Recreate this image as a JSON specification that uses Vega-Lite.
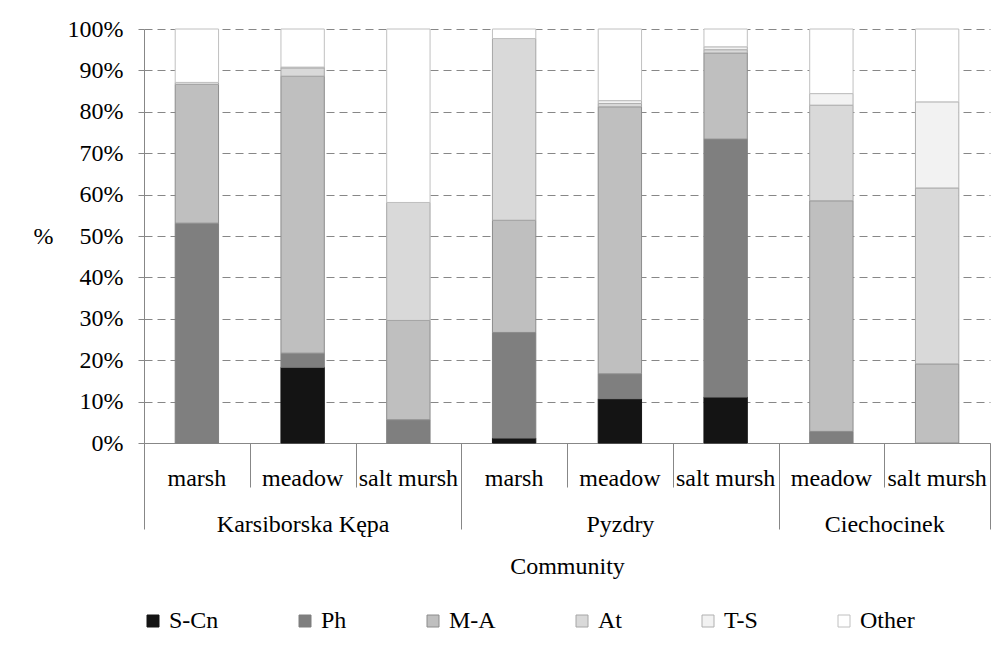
{
  "$schema": "https://vega.github.io/schema/vega-lite/v6.json",
  "autosize": "none",
  "width": 846,
  "height": 414,
  "padding": {"left": 144, "top": 29, "right": 13, "bottom": 217},
  "background": "white",
  "view": {"stroke": null},
  "config": {"font": "Liberation Serif"},
  "layer": [
    {
      "data": {
        "values": [
          {"bar": "Karsiborska Kępa|marsh", "group": "Ph", "value": 53.1},
          {"bar": "Karsiborska Kępa|marsh", "group": "M-A", "value": 33.5},
          {"bar": "Karsiborska Kępa|marsh", "group": "At", "value": 0.5},
          {"bar": "Karsiborska Kępa|marsh", "group": "Other", "value": 12.9},
          {"bar": "Karsiborska Kępa|meadow", "group": "S-Cn", "value": 18.3},
          {"bar": "Karsiborska Kępa|meadow", "group": "Ph", "value": 3.4},
          {"bar": "Karsiborska Kępa|meadow", "group": "M-A", "value": 66.9},
          {"bar": "Karsiborska Kępa|meadow", "group": "At", "value": 2.0},
          {"bar": "Karsiborska Kępa|meadow", "group": "T-S", "value": 0.2},
          {"bar": "Karsiborska Kępa|meadow", "group": "Other", "value": 9.2},
          {"bar": "Karsiborska Kępa|salt mursh", "group": "Ph", "value": 5.6},
          {"bar": "Karsiborska Kępa|salt mursh", "group": "M-A", "value": 24.0},
          {"bar": "Karsiborska Kępa|salt mursh", "group": "At", "value": 28.5},
          {"bar": "Karsiborska Kępa|salt mursh", "group": "Other", "value": 41.9},
          {"bar": "Pyzdry|marsh", "group": "S-Cn", "value": 1.2},
          {"bar": "Pyzdry|marsh", "group": "Ph", "value": 25.5},
          {"bar": "Pyzdry|marsh", "group": "M-A", "value": 27.1},
          {"bar": "Pyzdry|marsh", "group": "At", "value": 43.9},
          {"bar": "Pyzdry|marsh", "group": "Other", "value": 2.3},
          {"bar": "Pyzdry|meadow", "group": "S-Cn", "value": 10.7},
          {"bar": "Pyzdry|meadow", "group": "Ph", "value": 6.0},
          {"bar": "Pyzdry|meadow", "group": "M-A", "value": 64.5},
          {"bar": "Pyzdry|meadow", "group": "At", "value": 0.8},
          {"bar": "Pyzdry|meadow", "group": "T-S", "value": 0.7},
          {"bar": "Pyzdry|meadow", "group": "Other", "value": 17.3},
          {"bar": "Pyzdry|salt mursh", "group": "S-Cn", "value": 11.1},
          {"bar": "Pyzdry|salt mursh", "group": "Ph", "value": 62.3},
          {"bar": "Pyzdry|salt mursh", "group": "M-A", "value": 20.8},
          {"bar": "Pyzdry|salt mursh", "group": "At", "value": 0.8},
          {"bar": "Pyzdry|salt mursh", "group": "T-S", "value": 0.7},
          {"bar": "Pyzdry|salt mursh", "group": "Other", "value": 4.3},
          {"bar": "Ciechocinek|meadow", "group": "Ph", "value": 2.8},
          {"bar": "Ciechocinek|meadow", "group": "M-A", "value": 55.7},
          {"bar": "Ciechocinek|meadow", "group": "At", "value": 23.1},
          {"bar": "Ciechocinek|meadow", "group": "T-S", "value": 2.8},
          {"bar": "Ciechocinek|meadow", "group": "Other", "value": 15.6},
          {"bar": "Ciechocinek|salt mursh", "group": "M-A", "value": 19.1},
          {"bar": "Ciechocinek|salt mursh", "group": "At", "value": 42.5},
          {"bar": "Ciechocinek|salt mursh", "group": "T-S", "value": 20.8},
          {"bar": "Ciechocinek|salt mursh", "group": "Other", "value": 17.6}
        ]
      },
      "transform": [
        {"calculate": "indexof(['S-Cn','Ph','M-A','At','T-S','Other'], datum.group)", "as": "ord"}
      ],
      "mark": {"type": "bar", "strokeWidth": 1},
      "encoding": {
        "x": {
          "field": "bar",
          "type": "nominal",
          "sort": null,
          "scale": {"paddingInner": 0.59, "paddingOuter": 0.295},
          "axis": {
            "orient": "bottom",
            "title": null,
            "ticks": false,
            "domainColor": "#878787",
            "domainWidth": 1,
            "grid": false,
            "labelExpr": "split(datum.label, '|')[1]",
            "labelFont": "Liberation Serif",
            "labelFontSize": 24,
            "labelColor": "black",
            "labelAngle": 0,
            "labelBaseline": "middle",
            "labelPadding": 35,
            "labelOverlap": false,
            "labelLimit": 0
          }
        },
        "y": {
          "field": "value",
          "type": "quantitative",
          "stack": "normalize",
          "scale": {"domain": [0, 1]},
          "axis": {
            "values": [0, 0.1, 0.2, 0.3, 0.4, 0.5, 0.6, 0.7, 0.8, 0.9, 1],
            "format": ".0%",
            "grid": true,
            "gridDash": [8, 5],
            "gridColor": "#878787",
            "gridWidth": 1,
            "domainColor": "#878787",
            "tickColor": "#878787",
            "tickSize": 6,
            "labelPadding": 15,
            "labelFont": "Liberation Serif",
            "labelFontSize": 24,
            "labelColor": "black",
            "title": "%",
            "titleFont": "Liberation Serif",
            "titleAngle": 0,
            "titleFontSize": 24,
            "titleFontWeight": "normal",
            "titleColor": "black",
            "titleX": -101,
            "titleY": 207,
            "titleAlign": "center",
            "titleBaseline": "middle"
          }
        },
        "fill": {
          "field": "group",
          "type": "nominal",
          "scale": {
            "domain": ["S-Cn", "Ph", "M-A", "At", "T-S", "Other"],
            "range": ["#141414", "#7f7f7f", "#bfbfbf", "#d9d9d9", "#f2f2f2", "#ffffff"]
          },
          "legend": {
            "orient": "none",
            "legendX": -3,
            "legendY": 580,
            "direction": "horizontal",
            "columns": 6,
            "title": null,
            "symbolType": "square",
            "symbolSize": 144,
            "symbolStrokeWidth": 1,
            "labelFont": "Liberation Serif",
            "labelFontSize": 24,
            "labelColor": "black",
            "labelOffset": 4,
            "columnPadding": 74
          }
        },
        "stroke": {
          "field": "group",
          "type": "nominal",
          "scale": {
            "domain": ["S-Cn", "Ph", "M-A", "At", "T-S", "Other"],
            "range": ["#141414", "#7f7f7f", "#8c8c8c", "#a6a6a6", "#b0b0b0", "#c0c0c0"]
          },
          "legend": {
            "orient": "none",
            "legendX": -3,
            "legendY": 580,
            "direction": "horizontal",
            "columns": 6,
            "title": null,
            "symbolType": "square",
            "symbolSize": 144,
            "symbolStrokeWidth": 1,
            "labelFont": "Liberation Serif",
            "labelFontSize": 24,
            "labelColor": "black",
            "labelOffset": 4,
            "columnPadding": 74
          }
        },
        "order": {"field": "ord", "type": "quantitative"}
      }
    },
    {
      "data": {"values": [{"pos": 0}, {"pos": 8}]},
      "mark": {"type": "point", "opacity": 0},
      "encoding": {
        "x": {
          "field": "pos",
          "type": "quantitative",
          "scale": {"domain": [0, 8], "nice": false, "zero": false},
          "axis": {
            "orient": "bottom",
            "values": [0, 1.5, 3, 4.5, 6, 7, 8],
            "tickSize": 86,
            "tickColor": "#878787",
            "tickWidth": 1,
            "tickOpacity": {"condition": {"test": "datum.value == 1.5 || datum.value == 4.5 || datum.value == 7", "value": 0}, "value": 1},
            "domain": false,
            "grid": false,
            "labelExpr": "datum.value == 1.5 ? 'Karsiborska Kępa' : datum.value == 4.5 ? 'Pyzdry' : datum.value == 7 ? 'Ciechocinek' : ''",
            "labelFont": "Liberation Serif",
            "labelFontSize": 24,
            "labelColor": "black",
            "labelBaseline": "middle",
            "labelPadding": -5,
            "labelFlush": false,
            "labelOverlap": false,
            "labelBound": false,
            "labelLimit": 0,
            "title": "Community",
            "titleFont": "Liberation Serif",
            "titleFontSize": 24,
            "titleFontWeight": "normal",
            "titleColor": "black",
            "titleY": 123,
            "titleBaseline": "middle"
          }
        }
      }
    },
    {
      "data": {"values": [{"pos": 0}, {"pos": 8}]},
      "mark": {"type": "point", "opacity": 0},
      "encoding": {
        "x": {
          "field": "pos",
          "type": "quantitative",
          "scale": {"domain": [0, 8], "nice": false, "zero": false},
          "axis": {
            "orient": "bottom",
            "values": [1, 2, 4, 5, 7],
            "tickSize": 44,
            "tickColor": "#878787",
            "tickWidth": 1,
            "domain": false,
            "grid": false,
            "labels": false,
            "title": null
          }
        }
      }
    }
  ],
  "resolve": {"scale": {"x": "independent"}, "axis": {"x": "independent"}}
}
